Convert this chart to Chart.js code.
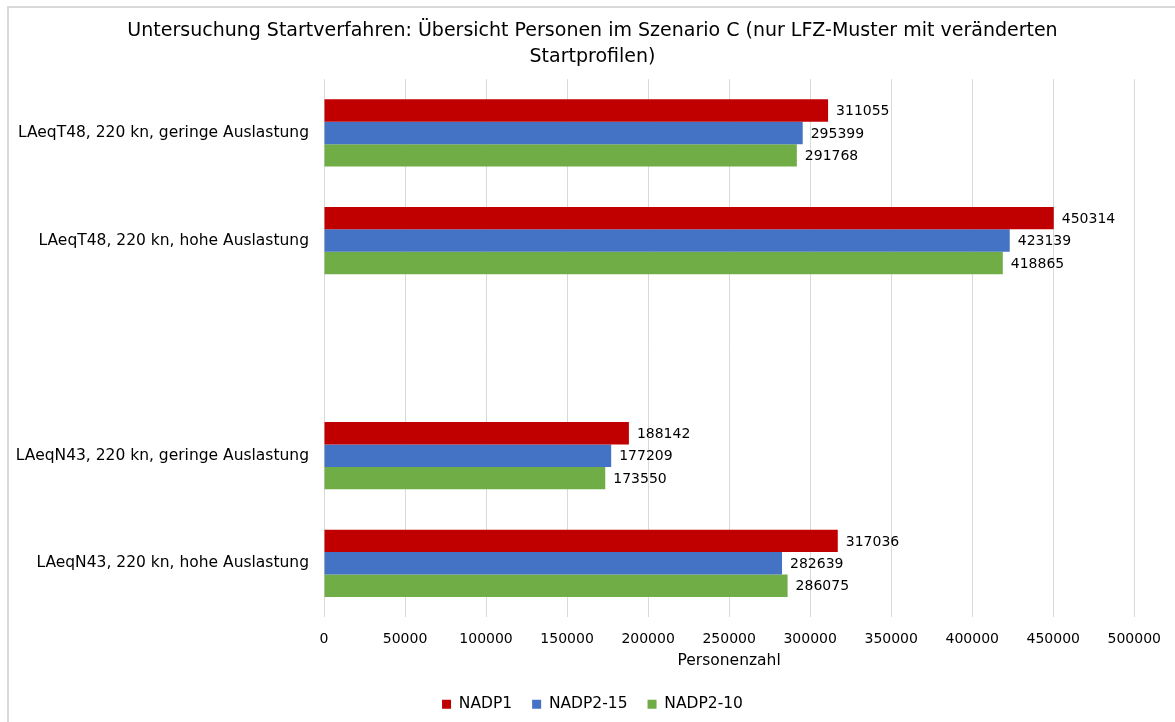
<!DOCTYPE html>
<html>
<head>
<meta charset="utf-8">
<script src="https://cdn.jsdelivr.net/npm/chart.js@4.4.0/dist/chart.umd.min.js"></script>
<style>
  html, body { margin: 0; padding: 0; background: #fff; }
  #frame { position: absolute; left: 7px; top: 6px; width: 1300px; height: 800px; border-left: 2px solid #d9d9d9; border-top: 2px solid #d9d9d9; box-sizing: border-box; }
  #c { position: absolute; left: 0; top: 0; }
</style>
</head>
<body>
<div id="frame"></div>
<canvas id="c" width="1175" height="722"></canvas>
<script>
const categories = [
  "LAeqT48, 220 kn, geringe Auslastung",
  "LAeqT48, 220 kn, hohe Auslastung",
  "",
  "LAeqN43, 220 kn, geringe Auslastung",
  "LAeqN43, 220 kn, hohe Auslastung"
];
const seriesNames = ["NADP1", "NADP2-15", "NADP2-10"];
const nadp1   = [311055, 450314, null, 188142, 317036];
const nadp2_15 = [295399, 423139, null, 177209, 282639];
const nadp2_10 = [291768, 418865, null, 173550, 286075];
const xTicks = [0, 50000, 100000, 150000, 200000, 250000, 300000, 350000, 400000, 450000, 500000];
const colors = ["#C00000", "#4472C4", "#70AD47"];

const FONT = "'DejaVu Sans', sans-serif";
const FS_NUM = 14;
const FS_TXT = 15.5;

const valueLabels = {
  id: 'valueLabels',
  afterDatasetsDraw(chart) {
    const ctx = chart.ctx;
    ctx.save();
    ctx.font = FS_NUM + "px " + FONT;
    ctx.fillStyle = "#000";
    ctx.textAlign = "left";
    ctx.textBaseline = "middle";
    chart.data.datasets.forEach((ds, i) => {
      const meta = chart.getDatasetMeta(i);
      meta.data.forEach((bar, j) => {
        const v = ds.data[j];
        if (v === null || v === undefined) return;
        ctx.fillText(String(v), bar.x + 8, bar.y + 1);
      });
    });
    ctx.restore();
  }
};

new Chart(document.getElementById('c'), {
  type: 'bar',
  data: {
    labels: categories,
    datasets: [
      { label: seriesNames[0], data: nadp1, backgroundColor: colors[0] },
      { label: seriesNames[1], data: nadp2_15, backgroundColor: colors[1] },
      { label: seriesNames[2], data: nadp2_10, backgroundColor: colors[2] }
    ]
  },
  options: {
    indexAxis: 'y',
    responsive: false,
    animation: false,
    devicePixelRatio: 1,
    categoryPercentage: 0.625,
    barPercentage: 1.0,
    layout: { padding: { top: 8, right: 5, left: 15, bottom: 0 } },
    plugins: {
      title: {
        display: true,
        text: ["Untersuchung Startverfahren: Übersicht Personen im Szenario C (nur LFZ-Muster mit veränderten", "Startprofilen)"],
        font: { family: FONT, size: 19, weight: 'normal', lineHeight: 1.32 },
        color: '#000',
        padding: { top: 11, bottom: 10 }
      },
      legend: {
        position: 'bottom',
        labels: {
          font: { family: FONT, size: FS_TXT },
          color: '#000',
          boxWidth: 9,
          boxHeight: 9,
          padding: 20
        }
      },
      tooltip: { enabled: false }
    },
    scales: {
      x: {
        min: 0,
        max: 500000,
        afterBuildTicks(axis) { axis.ticks = xTicks.map(v => ({ value: v })); },
        grid: { color: '#d9d9d9', lineWidth: 1, drawTicks: false },
        border: { display: false },
        ticks: { font: { family: FONT, size: FS_NUM }, color: '#000', padding: 14, maxRotation: 0,
                 callback: (v) => String(v) },
        title: { display: true, text: 'Personenzahl', font: { family: FONT, size: FS_TXT }, color: '#000', padding: { top: -10, bottom: 6 } }
      },
      y: {
        afterFit(axis) { axis.width = 309; },
        grid: { display: false, drawTicks: false },
        border: { display: false },
        ticks: { font: { family: FONT, size: FS_TXT }, color: '#000', padding: 15, autoSkip: false }
      }
    }
  },
  plugins: [valueLabels]
});
</script>
</body>
</html>
